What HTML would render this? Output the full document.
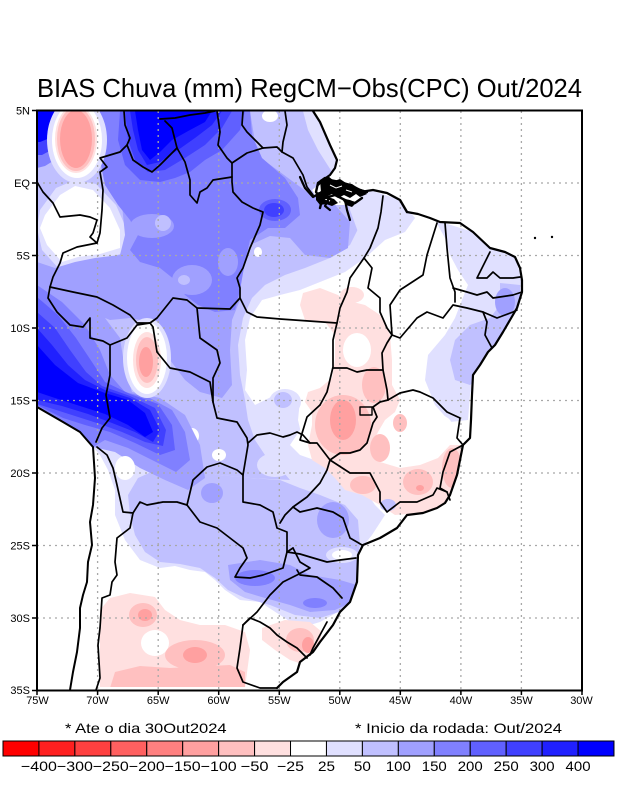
<!DOCTYPE html>
<html><head><meta charset="utf-8"><style>
html,body{margin:0;padding:0;background:#fff;}
svg{display:block;}
text{font-family:"Liberation Sans",sans-serif;fill:#000;}
</style></head><body>
<svg width="618" height="800" viewBox="0 0 618 800" xmlns="http://www.w3.org/2000/svg">
<defs>
<clipPath id="land"><path d="M37,111 L313,111 L320,122 L330,145 L337,160 L335,168 L330,175 L323,180 L318,185 L312,190 L318,200 L330,205 L345,205 L355,203 L362,196 L373,190 L387,193 L400,200 L407,212 L418,214 L430,218 L440,222 L460,223 L473,232 L490,248 L505,252 L515,257 L520,268 L522,280 L522,292 L517,308 L510,320 L503,332 L495,345 L488,352 L480,365 L473,375 L472,395 L471,420 L470,438 L463,445 L460,460 L457,475 L450,495 L445,503 L437,508 L423,513 L407,515 L397,528 L380,538 L363,545 L358,555 L357,582 L350,602 L340,612 L333,625 L320,642 L313,652 L300,662 L297,672 L283,682 L277,687 L73,687 L77,660 L80,628 L80,608 L87,582 L88,562 L92,545 L90,522 L93,505 L95,478 L93,447 L80,432 L63,422 L37,407 Z"/></clipPath>
</defs>

<text x="37" y="97" font-size="26" textLength="545" lengthAdjust="spacingAndGlyphs">BIAS Chuva (mm) RegCM−Obs(CPC) Out/2024</text>

<g clip-path="url(#land)" stroke="none">
<polygon fill="#e0e0ff" points="37,111 320,111 345,175 370,190 400,200 415,218 405,232 385,240 365,258 345,272 320,282 300,290 280,295 262,300 250,318 245,340 247,370 245,390 255,405 275,395 295,392 305,410 300,430 290,445 300,455 320,462 345,475 365,490 375,505 385,515 372,535 360,550 357,585 345,608 320,622 300,628 280,615 260,602 240,600 225,590 215,580 205,572 190,570 175,566 160,568 140,560 125,540 115,515 115,490 108,470 100,455 93,447 80,432 63,422 37,407"/>
<polygon fill="#e0e0ff" points="435,220 473,232 490,248 515,257 522,280 522,292 517,308 503,332 488,352 475,372 470,395 468,420 450,422 435,405 425,380 428,355 445,335 455,318 462,300 468,285 458,270 450,255 445,238"/>
<polygon fill="#c0c0ff" points="37,111 318,111 330,140 345,180 352,205 360,225 350,245 330,258 305,268 285,275 265,285 252,298 243,318 238,345 240,375 245,400 248,420 255,440 265,455 280,468 290,480 250,478 220,475 190,470 165,468 150,460 120,450 93,447 80,432 63,422 37,407"/>
<polygon fill="#c0c0ff" points="280,480 300,488 320,495 345,505 358,520 360,545 357,560 357,590 345,610 320,618 295,615 270,605 245,598 228,590 215,578 200,568 180,564 160,562 145,552 135,535 130,515 128,495 138,478 160,468 190,470 220,475 250,478"/>
<polygon fill="#c0c0ff" points="500,283 520,285 520,300 512,320 500,340 490,360 480,378 470,385 455,380 450,360 455,340 470,325 490,318 500,305"/>
<polygon fill="#e0e0ff" points="303,111 318,111 330,140 345,178 332,172 318,150 308,130"/>
<polygon fill="#e0e0ff" points="345,180 375,192 400,202 415,218 400,234 375,240 358,232 350,210"/>
<ellipse fill="#e0e0ff" cx="342" cy="555" rx="16" ry="8"/>
<ellipse fill="#e0e0ff" cx="275" cy="465" rx="18" ry="12"/>
<polygon fill="#e0e0ff" points="56,188 75,180 96,184 116,205 127,230 126,252 102,260 78,263 60,270 42,250 37,228 40,210"/>
<polygon fill="#ffffff" points="60,195 75,186 93,190 110,208 120,230 120,248 100,254 78,257 62,262 47,245 40,228 45,215"/>
<polygon fill="#ffffff" points="250,322 300,318 340,322 345,360 335,420 320,455 305,450 298,420 300,400 285,392 265,395 254,380 249,350"/>
<ellipse fill="#e0e0ff" cx="285" cy="402" rx="16" ry="13"/>
<ellipse fill="#c0c0ff" cx="283" cy="400" rx="9" ry="8"/>
<ellipse fill="#ffffff" cx="270" cy="116" rx="8" ry="6"/>
<ellipse fill="#ffffff" cx="258" cy="252" rx="4" ry="5"/>
<ellipse fill="#ffffff" cx="192" cy="436" rx="7" ry="8"/>
<ellipse fill="#ffffff" cx="219" cy="455" rx="7" ry="6"/>
<ellipse fill="#ffffff" cx="342" cy="555" rx="10" ry="5"/>
<polygon fill="#a0a0ff" points="100,111 250,111 257,155 280,172 307,192 335,205 350,222 348,248 330,258 305,255 290,238 270,236 250,245 242,270 240,300 232,320 230,350 232,385 222,398 200,392 185,380 170,360 165,335 150,322 130,318 110,320 90,312 75,300 55,290 37,280 37,262 55,268 75,262 95,258 120,255 125,235 122,205 105,185 100,160"/>
<polygon fill="#a0a0ff" points="37,262 60,275 85,295 105,318 120,338 125,370 132,392 160,398 185,415 200,445 205,478 188,490 165,480 140,468 115,452 93,447 80,432 63,422 37,407"/>
<polygon fill="#a0a0ff" points="228,565 260,560 290,565 310,575 340,580 357,585 352,602 335,610 310,612 290,605 265,598 245,592 230,580"/>
<ellipse fill="#a0a0ff" cx="212" cy="493" rx="11" ry="10"/>
<ellipse fill="#a0a0ff" cx="333" cy="520" rx="16" ry="18"/>
<ellipse fill="#a0a0ff" cx="505" cy="302" rx="10" ry="14"/>
<polygon fill="#8080ff" points="100,111 250,111 252,135 262,158 285,178 298,198 300,215 285,228 268,228 250,240 245,262 240,290 235,310 215,312 198,305 185,295 175,280 160,268 140,262 130,250 138,235 130,220 118,205 105,185 100,160"/>
<polygon fill="#8080ff" points="37,285 62,302 85,325 100,350 110,375 125,392 150,398 172,410 185,432 190,460 176,472 152,460 128,448 105,440 93,447 80,432 63,422 37,407"/>
<ellipse fill="#8080ff" cx="255" cy="578" rx="20" ry="8"/>
<ellipse fill="#8080ff" cx="315" cy="603" rx="12" ry="5"/>
<ellipse fill="#a0a0ff" cx="152" cy="226" rx="22" ry="12"/>
<ellipse fill="#c0c0ff" cx="163" cy="223" rx="8" ry="8"/>
<ellipse fill="#a0a0ff" cx="192" cy="280" rx="20" ry="15"/>
<ellipse fill="#c0c0ff" cx="184" cy="280" rx="6" ry="5"/>
<ellipse fill="#a0a0ff" cx="228" cy="262" rx="10" ry="14"/>
<polygon fill="#6060ff" points="120,111 245,111 240,130 222,150 205,160 190,172 175,178 160,182 140,180 125,165 118,140"/>
<polygon fill="#4040ff" points="125,111 232,111 222,128 205,145 185,158 165,170 148,172 135,160 128,140"/>
<polygon fill="#2020ff" points="130,111 222,111 212,125 195,138 178,150 160,162 147,165 138,150 133,130"/>
<polygon fill="#0000ff" points="135,111 212,111 205,122 190,130 172,140 160,152 150,160 142,150 138,130"/>
<ellipse fill="#6060ff" cx="275" cy="210" rx="16" ry="11"/>
<ellipse fill="#4040ff" cx="274" cy="210" rx="10" ry="7"/>
<polygon fill="#8080ff" points="37,111 66,111 66,140 58,158 45,166 37,168"/>
<polygon fill="#4040ff" points="37,111 62,111 63,130 55,148 42,155 37,155"/>
<polygon fill="#0000ff" points="37,111 58,111 58,125 50,138 40,142 37,142"/>
<polygon fill="#6060ff" points="37,297 58,315 76,338 92,362 105,382 130,394 158,404 172,425 175,450 160,455 135,443 110,432 85,425 63,418 37,405"/>
<polygon fill="#4040ff" points="37,312 55,328 70,350 86,372 102,386 130,396 155,408 166,430 163,446 145,442 122,432 100,424 75,416 50,408 37,404"/>
<polygon fill="#2020ff" points="37,328 52,345 68,365 85,380 105,390 130,398 150,410 160,430 153,442 135,432 112,423 88,414 62,406 37,400"/>
<polygon fill="#0000ff" points="37,345 55,365 78,383 105,393 128,400 145,413 153,432 145,437 128,425 105,414 80,406 55,398 37,392"/>
<ellipse fill="#ffffff" cx="125" cy="468" rx="10" ry="12"/>
<ellipse fill="#e0e0ff" cx="77" cy="140" rx="30" ry="43"/>
<ellipse fill="#ffffff" cx="77" cy="140" rx="25" ry="38"/>
<ellipse fill="#ffe0e0" cx="76" cy="139" rx="21" ry="34"/>
<ellipse fill="#ffc0c0" cx="76" cy="139" rx="19" ry="32"/>
<ellipse fill="#ffa0a0" cx="76" cy="139" rx="16" ry="29"/>
<ellipse fill="#e0e0ff" cx="147" cy="358" rx="24" ry="40"/>
<ellipse fill="#ffffff" cx="147" cy="358" rx="20" ry="36"/>
<ellipse fill="#ffe0e0" cx="147" cy="360" rx="14" ry="28"/>
<ellipse fill="#ffc0c0" cx="147" cy="360" rx="11" ry="23"/>
<ellipse fill="#ffa0a0" cx="146" cy="362" rx="7" ry="15"/>
<polygon fill="#ffe0e0" points="303,293 320,288 338,295 345,300 365,305 380,315 390,335 392,360 392,385 400,400 395,412 385,420 378,432 372,445 380,462 400,468 420,465 438,458 450,445 462,445 468,455 462,478 452,498 440,508 420,513 395,515 380,505 362,495 345,490 335,478 325,468 312,460 308,445 312,425 312,412 305,402 308,392 320,388 332,378 335,360 335,335 325,322 305,320 300,305"/>
<ellipse fill="#ffe0e0" cx="352" cy="295" rx="12" ry="8"/>
<ellipse fill="#ffe0e0" cx="318" cy="298" rx="8" ry="6"/>
<ellipse fill="#ffffff" cx="357" cy="350" rx="14" ry="17"/>
<ellipse fill="#ffffff" cx="430" cy="425" rx="22" ry="12"/>
<ellipse fill="#ffc0c0" cx="343" cy="425" rx="28" ry="30"/>
<ellipse fill="#ffc0c0" cx="380" cy="448" rx="10" ry="14"/>
<ellipse fill="#ffc0c0" cx="400" cy="423" rx="7" ry="9"/>
<ellipse fill="#ffc0c0" cx="418" cy="482" rx="15" ry="13"/>
<ellipse fill="#ffc0c0" cx="363" cy="485" rx="13" ry="9"/>
<ellipse fill="#ffc0c0" cx="452" cy="468" rx="10" ry="20"/>
<ellipse fill="#ffc0c0" cx="374" cy="385" rx="12" ry="18"/>
<ellipse fill="#ffa0a0" cx="343" cy="420" rx="13" ry="20"/>
<ellipse fill="#ffa0a0" cx="420" cy="488" rx="4" ry="3"/>
<ellipse fill="#c0c0ff" cx="388" cy="505" rx="8" ry="6"/>
<polygon fill="#ffe0e0" points="100,610 110,598 130,593 155,597 165,610 180,620 200,625 225,625 245,632 250,650 245,688 100,688"/>
<ellipse fill="#ffffff" cx="155" cy="643" rx="14" ry="13"/>
<ellipse fill="#ffc0c0" cx="143" cy="615" rx="14" ry="12"/>
<ellipse fill="#ffc0c0" cx="195" cy="655" rx="30" ry="15"/>
<polygon fill="#ffc0c0" points="110,688 115,672 140,666 170,668 230,665 245,672 245,688"/>
<ellipse fill="#ffa0a0" cx="195" cy="655" rx="12" ry="8"/>
<ellipse fill="#ffa0a0" cx="145" cy="615" rx="7" ry="6"/>
<polygon fill="#ffe0e0" points="262,628 285,620 310,622 322,632 318,650 305,665 290,660 275,650 262,640"/>
<ellipse fill="#ffc0c0" cx="300" cy="640" rx="14" ry="12"/>
<ellipse fill="#ffa0a0" cx="308" cy="645" rx="6" ry="8"/>
</g>

<g stroke="#a8a8a8" stroke-width="1.3" stroke-dasharray="2,4" fill="none">
<line x1="97.6" y1="111" x2="97.6" y2="690"/>
<line x1="158.2" y1="111" x2="158.2" y2="690"/>
<line x1="218.7" y1="111" x2="218.7" y2="690"/>
<line x1="279.3" y1="111" x2="279.3" y2="690"/>
<line x1="339.8" y1="111" x2="339.8" y2="690"/>
<line x1="400.3" y1="111" x2="400.3" y2="690"/>
<line x1="460.9" y1="111" x2="460.9" y2="690"/>
<line x1="521.4" y1="111" x2="521.4" y2="690"/>
<line x1="37" y1="183" x2="582" y2="183"/>
<line x1="37" y1="255.5" x2="582" y2="255.5"/>
<line x1="37" y1="328" x2="582" y2="328"/>
<line x1="37" y1="400.5" x2="582" y2="400.5"/>
<line x1="37" y1="473" x2="582" y2="473"/>
<line x1="37" y1="545.5" x2="582" y2="545.5"/>
<line x1="37" y1="618" x2="582" y2="618"/>
</g>

<!-- Amazon delta dense cluster -->
<g fill="#000" stroke="none">
<polygon points="320,180 328,176 334,181 340,179 346,183 352,184 358,188 364,190 367,194 360,197 356,194 350,198 344,195 338,198 332,194 326,197 321,192"/>
<polygon points="316,193 323,191 328,197 334,199 338,203 332,206 326,204 320,205 316,200"/>
<polygon points="342,199 350,200 356,203 352,207 346,205"/>
</g>
<g stroke="#fff" stroke-width="1" fill="none">
<polyline points="330,185 336,188 342,186"/>
<polyline points="346,190 352,192"/>
<polyline points="325,199 330,201"/>
</g>

<g stroke="#000" stroke-width="1.7" fill="none" stroke-linejoin="round" stroke-linecap="round">
<polyline stroke-width="2.2" points="313,111 320,122 330,145 337,160 335,168 330,175 323,180 318,185"/>
<polyline stroke-width="2.2" points="300,177 305,188 313,197 320,193 327,188"/>
<polyline stroke-width="2.4" points="320,182 330,180 340,182 350,185 360,190 367,192"/>
<polyline stroke-width="2.4" points="317,197 325,198 335,195 345,200 355,203 362,198"/>
<polyline stroke-width="2.4" points="325,178 318,183 316,192 322,200 320,208"/>
<polyline stroke-width="2.2" points="345,200 347,210 350,220"/>
<polyline stroke-width="2.2" points="328,200 325,206 330,210"/>
<polyline stroke-width="2.4" points="360,192 373,190 387,193 400,200 407,212"/>
<polyline stroke-width="2.2" points="407,212 418,214 430,218 440,222 460,223 473,232 490,248 505,252 515,257 520,268 522,280 522,292 517,308 510,320 503,332 495,345 488,352 480,365 473,375 472,395 471,420 470,438 463,445 460,460 457,475 450,495 445,503 437,508 423,513 407,515 397,528 380,538 363,545 358,555 357,582 350,602 340,612 333,625 320,642 313,652 300,662 297,672 283,682 277,688"/>
<polyline stroke-width="2" points="37,407 63,422 80,432 93,447 95,478 93,505 90,522 92,545 88,562 87,582 83,595 80,608 80,628 77,652 73,672 70,690"/>
<polyline points="97,447 107,455 113,468 117,485 123,512 133,513 130,528 117,538 115,562 117,575 112,582 110,595 102,598 100,628 98,645 100,678 96,690"/>
<polyline points="133,513 140,502 147,505 163,502 177,502 187,505"/>
<polyline points="96,442 102,428 110,418 106,395 110,375 110,345 103,341 90,338 90,318 83,327 70,325 63,318 57,312 48,298 50,287"/>
<polyline points="110,345 127,338 137,325 150,323 153,327 157,352 170,368 190,372 210,382 213,402 217,418 237,422 247,438 248,445 243,475 237,470 220,463 207,467 193,480 187,505"/>
<polyline points="187,505 200,522 217,528 230,538 243,548 247,558 240,568 235,577 250,578 263,575 283,568 287,552 293,548"/>
<polyline points="243,475 243,502 260,505 273,512 277,528 287,532 287,552"/>
<polyline points="293,548 300,562 310,568 297,575 283,582 270,595 257,612 243,625"/>
<polyline points="243,625 250,618 260,622 270,628 277,635 287,642 297,648 307,658"/>
<polyline points="243,625 240,648 237,668 243,682 260,688 277,688"/>
<polyline points="327,622 320,635 313,648 310,655"/>
<polyline points="248,443 257,435 270,433 283,437 290,435 297,432 303,435 310,443 317,443 330,460 327,470 320,483 307,497 293,507 285,515 280,523"/>
<polyline points="320,405 307,417 300,440 310,443"/>
<polyline points="197,308 200,338 217,350 220,363 213,378 213,402"/>
<polyline points="50,287 73,292 97,297 113,305 130,315 137,323 150,323"/>
<polyline points="150,323 157,318 173,298 187,300 197,308 230,309 240,298"/>
<polyline points="124,111 125,125 130,138 127,145 133,160 143,167 152,172 160,165 170,155 177,148"/>
<polyline points="127,145 120,152 100,158 107,167 100,172 103,190 102,210 100,233 97,243"/>
<polyline points="37,182 43,192 53,203 60,217 80,215 90,217 97,220 93,233 90,237 97,243 77,247 63,253 60,263 53,277 50,287"/>
<polyline points="160,119 175,118 190,115 205,113 215,111"/>
<polyline points="165,121 172,128 177,148"/>
<polyline points="177,148 185,162 190,180 190,195 197,203 200,192 207,188 213,180 232,177"/>
<polyline points="217,111 220,132 218,145 227,158 232,163 247,153 263,148 277,147 282,152 293,158 303,175 307,187 313,195"/>
<polyline points="243,111 242,125 247,132 263,148"/>
<polyline points="285,111 287,125 283,142 282,152"/>
<polyline points="232,163 232,182 233,192 242,202 253,208 263,212 260,225 250,248 243,268 237,278 240,288 240,298 247,312 257,317 280,319 337,323"/>
<polyline points="383,196 381,212 378,228 370,248 364,258"/>
<polyline points="364,258 350,278 347,292 340,308 337,323 333,340 333,367 327,392 320,405"/>
<polyline points="364,258 372,268 368,288 380,298 380,312 387,328 392,335 387,343 382,353 383,370"/>
<polyline points="333,368 347,368 357,372 367,370 383,370 387,390 388,400"/>
<polyline points="437,223 427,255 423,275 400,290 390,305 392,335"/>
<polyline points="445,223 447,248 450,278 455,292 455,302"/>
<polyline points="392,335 400,338 417,318 427,312 443,318 453,305 467,308 483,312 497,318 513,312 517,310"/>
<polyline points="490,252 480,272 477,278 487,278 493,272 500,278 513,278 520,277"/>
<polyline points="453,288 467,292 477,295 487,292 493,298 513,295 522,292"/>
<polyline points="483,312 487,322 485,335 492,348"/>
<polyline points="388,400 400,393 413,390 420,392 433,398 447,412 460,418 457,438 463,445"/>
<polyline points="463,445 450,452 443,472 440,488 447,492 450,500"/>
<polyline points="330,460 350,473 370,473 380,492 380,502 387,512 400,502 417,502 433,495 437,488 447,492"/>
<polyline points="388,400 380,402 373,407 377,417 373,423 370,433 367,443 360,450 350,453 340,453 330,460"/>
<rect x="360" y="407" width="12" height="8" stroke-width="1.4"/>
<polyline points="293,507 300,512 317,508 333,512 343,518 350,538 357,542 362,545"/>
<polyline points="287,552 300,554 310,557 327,562 340,560 356,558"/>
<polyline points="297,570 300,575 317,577 333,588 342,598"/>
</g>
<circle cx="535" cy="238" r="1.2" fill="#000"/>
<circle cx="552" cy="237" r="1.2" fill="#000"/>

<rect x="37" y="110.5" width="545" height="580" fill="none" stroke="#000" stroke-width="2"/>
<g stroke="#000" stroke-width="1.5">
<line x1="32" y1="110.5" x2="37" y2="110.5"/><line x1="32" y1="183" x2="37" y2="183"/><line x1="32" y1="255.5" x2="37" y2="255.5"/>
<line x1="32" y1="328" x2="37" y2="328"/><line x1="32" y1="400.5" x2="37" y2="400.5"/><line x1="32" y1="473" x2="37" y2="473"/>
<line x1="32" y1="545.5" x2="37" y2="545.5"/><line x1="32" y1="618" x2="37" y2="618"/><line x1="32" y1="690.5" x2="37" y2="690.5"/>
<line x1="37" y1="690" x2="37" y2="695"/><line x1="97.6" y1="690" x2="97.6" y2="695"/><line x1="158.2" y1="690" x2="158.2" y2="695"/>
<line x1="218.7" y1="690" x2="218.7" y2="695"/><line x1="279.3" y1="690" x2="279.3" y2="695"/><line x1="339.8" y1="690" x2="339.8" y2="695"/>
<line x1="400.3" y1="690" x2="400.3" y2="695"/><line x1="460.9" y1="690" x2="460.9" y2="695"/><line x1="521.4" y1="690" x2="521.4" y2="695"/>
<line x1="582" y1="690" x2="582" y2="695"/>
</g>

<g font-size="11" text-anchor="end">
<text x="30" y="114.5">5N</text>
<text x="30" y="187">EQ</text>
<text x="30" y="259.5">5S</text>
<text x="30" y="332">10S</text>
<text x="30" y="404.5">15S</text>
<text x="30" y="477">20S</text>
<text x="30" y="549.5">25S</text>
<text x="30" y="622">30S</text>
<text x="30" y="694">35S</text>
</g>
<g font-size="11" text-anchor="middle">
<text x="37.5" y="704">75W</text>
<text x="97.6" y="704">70W</text>
<text x="158.2" y="704">65W</text>
<text x="218.7" y="704">60W</text>
<text x="279.3" y="704">55W</text>
<text x="339.8" y="704">50W</text>
<text x="400.3" y="704">45W</text>
<text x="460.9" y="704">40W</text>
<text x="521.4" y="704">35W</text>
<text x="581.5" y="704">30W</text>
</g>

<text x="65" y="733" font-size="14" textLength="161.6" lengthAdjust="spacingAndGlyphs">* Ate o dia 30Out2024</text>
<text x="355" y="733" font-size="14" textLength="207" lengthAdjust="spacingAndGlyphs">* Inicio da rodada: Out/2024</text>

<g stroke="#000" stroke-width="1">
<rect x="3" y="741" width="35.94" height="15" fill="#ff0000"/>
<rect x="38.94" y="741" width="35.94" height="15" fill="#ff2020"/>
<rect x="74.88" y="741" width="35.94" height="15" fill="#ff4040"/>
<rect x="110.82" y="741" width="35.94" height="15" fill="#ff6060"/>
<rect x="146.76" y="741" width="35.94" height="15" fill="#ff8080"/>
<rect x="182.7" y="741" width="35.94" height="15" fill="#ffa0a0"/>
<rect x="218.64" y="741" width="35.94" height="15" fill="#ffc0c0"/>
<rect x="254.58" y="741" width="35.94" height="15" fill="#ffe0e0"/>
<rect x="290.52" y="741" width="35.94" height="15" fill="#ffffff"/>
<rect x="326.46" y="741" width="35.94" height="15" fill="#e0e0ff"/>
<rect x="362.4" y="741" width="35.94" height="15" fill="#c0c0ff"/>
<rect x="398.34" y="741" width="35.94" height="15" fill="#a0a0ff"/>
<rect x="434.28" y="741" width="35.94" height="15" fill="#8080ff"/>
<rect x="470.22" y="741" width="35.94" height="15" fill="#6060ff"/>
<rect x="506.16" y="741" width="35.94" height="15" fill="#4040ff"/>
<rect x="542.1" y="741" width="35.94" height="15" fill="#2020ff"/>
<rect x="578.04" y="741" width="35.94" height="15" fill="#0000ff"/>
</g>
<g font-size="14" text-anchor="middle">
<text x="38.94" y="771" textLength="36" lengthAdjust="spacingAndGlyphs">−400</text>
<text x="74.88" y="771" textLength="36" lengthAdjust="spacingAndGlyphs">−300</text>
<text x="110.82" y="771" textLength="36" lengthAdjust="spacingAndGlyphs">−250</text>
<text x="146.76" y="771" textLength="36" lengthAdjust="spacingAndGlyphs">−200</text>
<text x="182.7" y="771" textLength="36" lengthAdjust="spacingAndGlyphs">−150</text>
<text x="218.64" y="771" textLength="36" lengthAdjust="spacingAndGlyphs">−100</text>
<text x="254.58" y="771" textLength="28" lengthAdjust="spacingAndGlyphs">−50</text>
<text x="290.52" y="771" textLength="27" lengthAdjust="spacingAndGlyphs">−25</text>
<text x="326.46" y="771" textLength="17" lengthAdjust="spacingAndGlyphs">25</text>
<text x="362.4" y="771" textLength="17" lengthAdjust="spacingAndGlyphs">50</text>
<text x="398.34" y="771" textLength="25" lengthAdjust="spacingAndGlyphs">100</text>
<text x="434.28" y="771" textLength="25" lengthAdjust="spacingAndGlyphs">150</text>
<text x="470.22" y="771" textLength="25" lengthAdjust="spacingAndGlyphs">200</text>
<text x="506.16" y="771" textLength="25" lengthAdjust="spacingAndGlyphs">250</text>
<text x="542.1" y="771" textLength="25" lengthAdjust="spacingAndGlyphs">300</text>
<text x="578.04" y="771" textLength="25" lengthAdjust="spacingAndGlyphs">400</text>
</g>
</svg>
</body></html>
